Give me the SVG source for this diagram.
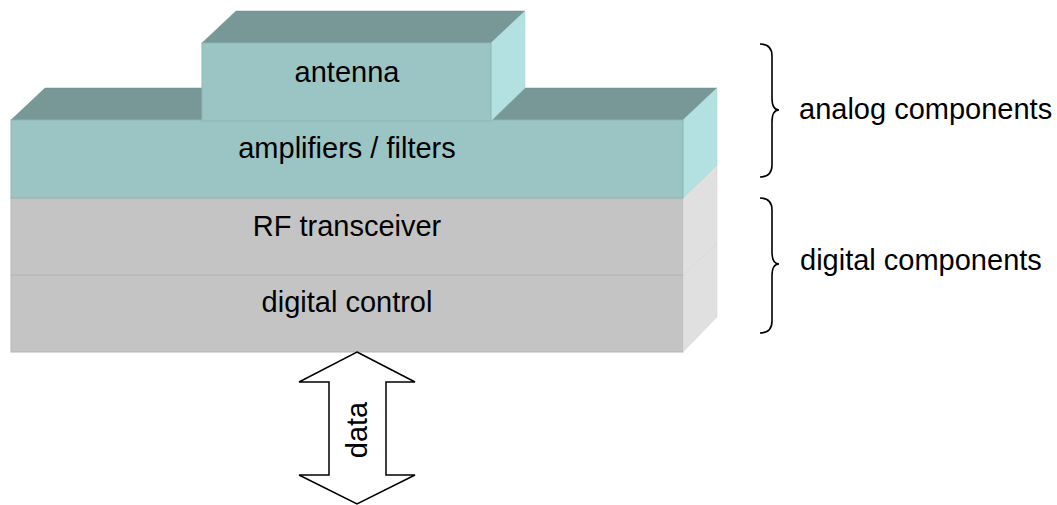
<svg xmlns="http://www.w3.org/2000/svg" width="1057" height="505" viewBox="0 0 1057 505">
<style>
text{font-family:"Liberation Sans",Arial,sans-serif;font-size:29px;fill:#000}
.c{text-anchor:middle}
.tf{fill:#9BC4C4;stroke:#8DB6B6;stroke-width:1}
.tt{fill:#789797;stroke:#6F8C8C;stroke-width:0.5}
.ts{fill:#B3E0E0;stroke:#A5D2D2;stroke-width:0.5}
.gf{fill:#C4C4C4;stroke:#B5B5B5;stroke-width:1}
.gs{fill:#E0E0E0;stroke:#D2D2D2;stroke-width:0.5}
.brace{fill:none;stroke:#000;stroke-width:1.6}
.arrow{fill:#fff;stroke:#000;stroke-width:1.5;stroke-linejoin:miter}
</style>
<rect width="1057" height="505" fill="#fff"/>
<g id="digital-control">
<rect class="gf" x="11" y="275" width="672" height="77"/>
<polygon class="gs" points="683,275 717,243 717,317 683,352"/>
<text class="c" x="347" y="312">digital control</text>
</g>
<g id="rf-transceiver">
<rect class="gf" x="11" y="198" width="672" height="77"/>
<polygon class="gs" points="683,198 717,165 717,243 683,275"/>
<text class="c" x="347" y="236">RF transceiver</text>
</g>
<g id="amplifiers-filters">
<polygon class="tt" points="11,120 45,88 717,88 683,120"/>
<polygon class="ts" points="683,120 717,88 717,165 683,198"/>
<rect class="tf" x="11" y="120" width="672" height="78"/>
<text class="c" x="347" y="158">amplifiers / filters</text>
</g>
<g id="antenna">
<polygon class="tt" points="202,43 236,11 525,11 491,43"/>
<polygon class="ts" points="491,43 525,11 525,88 491,121"/>
<rect class="tf" x="202" y="43" width="289" height="78"/>
<text class="c" x="347" y="82">antenna</text>
</g>
<g id="analog-brace">
<path class="brace" d="M760,44 Q772,44 772,56 L772,98 Q772,110 779,110 Q772,110 772,122 L772,165 Q772,177 760,177"/>
<text x="799" y="119">analog components</text>
</g>
<g id="digital-brace">
<path class="brace" d="M760,198 Q772,198 772,210 L772,252 Q772,264 779,264 Q772,264 772,276 L772,321 Q772,333 760,333"/>
<text x="800" y="270">digital components</text>
</g>
<g id="connectors">
<g id="data-arrow">
<polygon class="arrow" points="357,352 415,382 386,382 386,475 415,475 357,504 299,475 329,475 329,382 299,382"/>
<text class="c" transform="translate(367,430) rotate(-90)" x="0" y="0">data</text>
</g>
</g>
</svg>
